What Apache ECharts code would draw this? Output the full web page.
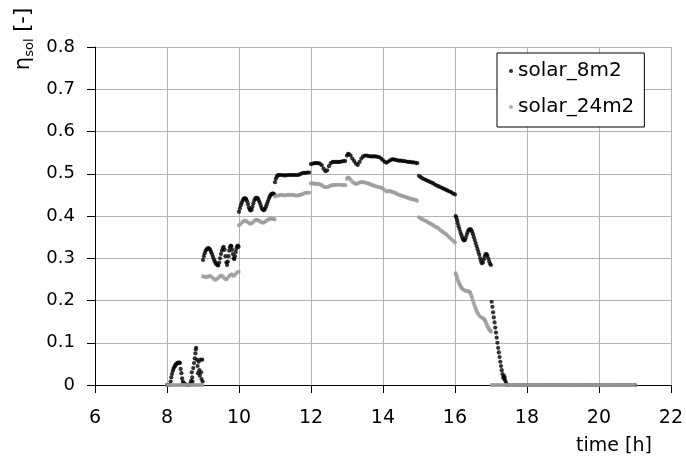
<!DOCTYPE html>
<html>
<head>
<meta charset="utf-8">
<script src="https://cdn.jsdelivr.net/npm/echarts@6/dist/echarts.min.js"></script>
<style>
html,body{margin:0;padding:0;background:#fff;}
#chart{width:686px;height:456px;}
</style>
</head>
<body>
<div id="chart"></div>
<script>
// ---- data: [time h, eta_sol] ----
const seriesNames = ['solar_8m2', 'solar_24m2'];
const xRange = [6, 22, 2];      // min, max, interval (h)
const yRange = [0, 0.8, 0.1];   // min, max, interval
const xAxisTitle = 'time [h]';

const solar8m2 = [
  [8.00,0],[8.05,0],[8.10,0.008],[8.12,0.018],[8.14,0.026],[8.16,0.033],[8.18,0.038],[8.20,0.042],
  [8.22,0.045],[8.24,0.048],[8.26,0.050],[8.28,0.051],[8.30,0.052],[8.32,0.053],[8.34,0.053],[8.36,0.052],
  [8.38,0.038],[8.40,0.028],[8.42,0.016],[8.44,0.008],[8.47,0.004],[8.50,0.002],[8.55,0],[8.60,0],
  [8.65,0.004],[8.67,0.010],[8.69,0.030],[8.70,0.018],[8.71,0.008],[8.73,0.040],[8.75,0.052],[8.77,0.063],
  [8.79,0.075],[8.80,0.084],[8.81,0.088],[8.83,0.060],[8.85,0.045],[8.86,0.028],[8.88,0.055],[8.90,0.035],
  [8.91,0.022],[8.93,0.060],[8.95,0.030],[8.96,0.014],[8.98,0.060],[8.99,0.008],
  [9.00,0.296],[9.025,0.305],[9.05,0.312],[9.075,0.318],[9.10,0.321],[9.125,0.323],[9.15,0.324],[9.175,0.323],
  [9.20,0.320],[9.225,0.315],[9.25,0.310],[9.275,0.304],[9.30,0.298],[9.325,0.293],[9.35,0.289],[9.375,0.286],
  [9.40,0.284],[9.425,0.283],[9.45,0.290],[9.475,0.300],[9.50,0.310],[9.525,0.318],[9.55,0.324],[9.575,0.327],
  [9.60,0.320],[9.625,0.305],[9.65,0.290],[9.67,0.284],[9.69,0.292],[9.71,0.305],[9.73,0.318],[9.75,0.326],
  [9.77,0.330],[9.79,0.328],[9.81,0.320],[9.83,0.310],[9.85,0.300],[9.87,0.298],[9.89,0.305],[9.91,0.315],
  [9.93,0.323],[9.95,0.328],[9.97,0.330],[9.99,0.327],
  [10.00,0.410],[10.025,0.418],[10.05,0.425],[10.075,0.431],[10.10,0.436],[10.125,0.440],[10.15,0.442],[10.175,0.442],
  [10.20,0.440],[10.225,0.435],[10.25,0.428],[10.275,0.420],[10.30,0.415],[10.325,0.413],[10.35,0.415],[10.375,0.422],
  [10.40,0.430],[10.425,0.437],[10.45,0.441],[10.475,0.443],[10.50,0.443],[10.525,0.441],[10.55,0.437],[10.575,0.432],
  [10.60,0.426],[10.625,0.420],[10.65,0.416],[10.675,0.414],[10.70,0.414],[10.725,0.417],[10.75,0.422],[10.775,0.428],
  [10.80,0.434],[10.825,0.440],[10.85,0.445],[10.875,0.449],[10.90,0.452],[10.925,0.453],[10.95,0.453],[10.975,0.452],
  [11.00,0.480],[11.025,0.488],[11.05,0.493],[11.075,0.496],[11.10,0.497],[11.15,0.497],[11.20,0.497],[11.25,0.496],
  [11.30,0.496],[11.35,0.497],[11.40,0.497],[11.45,0.497],[11.50,0.497],[11.55,0.497],[11.60,0.497],[11.65,0.497],
  [11.70,0.499],[11.75,0.501],[11.80,0.502],[11.85,0.502],[11.90,0.503],[11.95,0.503],
  [12.00,0.523],[12.05,0.524],[12.10,0.525],[12.15,0.525],[12.20,0.525],[12.25,0.524],[12.30,0.520],[12.35,0.512],
  [12.40,0.506],[12.45,0.508],[12.50,0.518],[12.55,0.525],[12.60,0.528],[12.65,0.528],[12.70,0.528],[12.75,0.528],
  [12.80,0.528],[12.85,0.529],[12.90,0.530],[12.95,0.530],
  [13.00,0.543],[13.03,0.547],[13.06,0.546],[13.10,0.543],[13.15,0.536],[13.20,0.530],[13.25,0.524],[13.30,0.521],
  [13.35,0.528],[13.40,0.536],[13.45,0.541],[13.50,0.543],[13.55,0.543],[13.60,0.542],[13.65,0.541],[13.70,0.541],
  [13.75,0.541],[13.80,0.541],[13.85,0.540],[13.90,0.539],[13.95,0.536],[14.00,0.532],[14.05,0.528],[14.10,0.526],
  [14.15,0.529],[14.20,0.532],[14.25,0.534],[14.30,0.534],[14.35,0.533],[14.40,0.532],[14.45,0.531],[14.50,0.531],
  [14.55,0.530],[14.60,0.530],[14.65,0.529],[14.70,0.528],[14.75,0.528],[14.80,0.527],[14.85,0.527],[14.90,0.526],
  [14.95,0.525],
  [15.00,0.495],[15.05,0.492],[15.10,0.489],[15.15,0.487],[15.20,0.485],[15.25,0.483],[15.30,0.481],[15.35,0.479],
  [15.40,0.477],[15.45,0.474],[15.50,0.472],[15.55,0.470],[15.60,0.468],[15.65,0.466],[15.70,0.464],[15.75,0.462],
  [15.80,0.460],[15.85,0.458],[15.90,0.456],[15.95,0.453],[16.00,0.451],
  [16.02,0.400],[16.04,0.396],[16.06,0.390],[16.075,0.383],[16.10,0.376],[16.125,0.369],[16.15,0.362],[16.175,0.356],
  [16.20,0.350],[16.225,0.345],[16.25,0.342],[16.275,0.343],[16.30,0.348],[16.325,0.355],[16.35,0.361],[16.375,0.366],
  [16.40,0.368],[16.425,0.369],[16.45,0.367],[16.475,0.363],[16.50,0.357],[16.525,0.350],[16.55,0.343],[16.575,0.336],
  [16.60,0.329],[16.625,0.322],[16.65,0.315],[16.675,0.308],[16.70,0.300],[16.725,0.293],[16.75,0.288],[16.775,0.290],
  [16.80,0.297],[16.825,0.304],[16.85,0.309],[16.875,0.310],[16.90,0.307],[16.925,0.300],[16.95,0.293],[16.975,0.287],
  [17.00,0.284],
  [17.02,0.197],[17.04,0.185],[17.06,0.172],[17.08,0.160],[17.10,0.148],[17.12,0.136],[17.14,0.124],[17.16,0.112],
  [17.18,0.100],[17.20,0.088],[17.22,0.077],[17.24,0.066],[17.26,0.055],[17.28,0.045],[17.30,0.035],[17.32,0.026],
  [17.34,0.018],[17.36,0.022],[17.37,0.014],[17.38,0.018],[17.40,0.010],[17.42,0.005],[17.45,0],
  [17.5,0],[17.6,0],[17.7,0],[17.8,0],[17.9,0],[18.0,0],[18.1,0],[18.2,0],[18.3,0],[18.4,0],[18.5,0],[18.6,0],
  [18.7,0],[18.8,0],[18.9,0],[19.0,0],[19.1,0],[19.2,0],[19.3,0],[19.4,0],[19.5,0],[19.6,0],[19.7,0],[19.8,0],
  [19.9,0],[20.0,0],[20.1,0],[20.2,0],[20.3,0],[20.4,0],[20.5,0],[20.6,0],[20.7,0],[20.8,0],[20.9,0],[21.0,0]
];

const solar24m2 = [
  [8.00,0],[8.05,0],[8.10,0],[8.15,0],[8.20,0],[8.25,0],[8.30,0],[8.35,0],[8.40,0],[8.45,0],[8.50,0],
  [8.55,0],[8.60,0],[8.65,0],[8.70,0],[8.75,0],[8.80,0],[8.85,0],[8.90,0],[8.95,0],[8.98,0],
  [9.00,0.257],[9.05,0.256],[9.10,0.255],[9.15,0.257],[9.20,0.258],[9.25,0.255],[9.30,0.251],[9.35,0.249],
  [9.40,0.252],[9.45,0.256],[9.50,0.259],[9.55,0.257],[9.60,0.252],[9.65,0.250],[9.70,0.255],[9.75,0.260],
  [9.80,0.262],[9.85,0.258],[9.90,0.262],[9.95,0.266],[9.99,0.268],
  [10.00,0.378],[10.05,0.382],[10.10,0.386],[10.15,0.389],[10.20,0.388],[10.25,0.385],[10.30,0.382],[10.35,0.382],
  [10.40,0.386],[10.45,0.390],[10.50,0.391],[10.55,0.389],[10.60,0.386],[10.65,0.384],[10.70,0.385],[10.75,0.388],
  [10.80,0.391],[10.85,0.393],[10.90,0.394],[10.95,0.393],[10.99,0.392],
  [11.00,0.446],[11.05,0.448],[11.10,0.449],[11.15,0.450],[11.20,0.450],[11.25,0.449],[11.30,0.449],[11.35,0.450],
  [11.40,0.450],[11.45,0.450],[11.50,0.450],[11.55,0.449],[11.60,0.448],[11.65,0.449],[11.70,0.450],[11.75,0.451],
  [11.80,0.453],[11.85,0.455],[11.90,0.455],[11.95,0.455],
  [12.00,0.477],[12.05,0.477],[12.10,0.476],[12.15,0.476],[12.20,0.476],[12.25,0.475],[12.30,0.473],[12.35,0.470],
  [12.40,0.468],[12.45,0.468],[12.50,0.470],[12.55,0.472],[12.60,0.473],[12.65,0.473],[12.70,0.474],[12.75,0.474],
  [12.80,0.474],[12.85,0.474],[12.90,0.473],[12.95,0.473],
  [13.00,0.488],[13.03,0.491],[13.06,0.490],[13.10,0.486],[13.15,0.481],[13.20,0.478],[13.25,0.476],[13.30,0.477],
  [13.35,0.479],[13.40,0.480],[13.45,0.480],[13.50,0.479],[13.55,0.478],[13.60,0.477],[13.65,0.475],[13.70,0.473],
  [13.75,0.472],[13.80,0.470],[13.85,0.469],[13.90,0.468],[13.95,0.467],[14.00,0.465],[14.05,0.461],[14.10,0.458],
  [14.15,0.459],[14.20,0.459],[14.25,0.457],[14.30,0.456],[14.35,0.454],[14.40,0.452],[14.45,0.450],[14.50,0.449],
  [14.55,0.447],[14.60,0.446],[14.65,0.444],[14.70,0.443],[14.75,0.441],[14.80,0.440],[14.85,0.439],[14.90,0.438],
  [14.95,0.436],
  [15.00,0.397],[15.05,0.394],[15.10,0.392],[15.15,0.390],[15.20,0.388],[15.25,0.385],[15.30,0.383],[15.35,0.380],
  [15.40,0.378],[15.45,0.375],[15.50,0.373],[15.55,0.370],[15.60,0.366],[15.65,0.363],[15.70,0.360],[15.75,0.357],
  [15.80,0.353],[15.85,0.349],[15.90,0.345],[15.95,0.341],[16.00,0.337],
  [16.02,0.264],[16.04,0.259],[16.06,0.254],[16.075,0.249],[16.10,0.244],[16.125,0.239],[16.15,0.235],[16.175,0.231],
  [16.20,0.228],[16.25,0.225],[16.30,0.223],[16.35,0.222],[16.40,0.221],[16.425,0.218],[16.45,0.213],[16.475,0.207],
  [16.50,0.200],[16.525,0.193],[16.55,0.187],[16.575,0.181],[16.60,0.176],[16.625,0.171],[16.65,0.167],[16.70,0.162],
  [16.75,0.159],[16.80,0.157],[16.825,0.154],[16.85,0.150],[16.875,0.145],[16.90,0.140],[16.925,0.136],[16.95,0.132],
  [16.975,0.129],[17.00,0.126],
  [17.02,0],[17.05,0],[17.10,0],[17.15,0],[17.20,0],[17.25,0],[17.30,0],[17.35,0],[17.40,0],[17.45,0],
  [17.50,0],[17.55,0],[17.60,0],[17.65,0],[17.70,0],[17.75,0],[17.80,0],[17.85,0],[17.90,0],[17.95,0],
  [18.00,0],[18.05,0],[18.10,0],[18.15,0],[18.20,0],[18.25,0],[18.30,0],[18.35,0],[18.40,0],[18.45,0],
  [18.50,0],[18.55,0],[18.60,0],[18.65,0],[18.70,0],[18.75,0],[18.80,0],[18.85,0],[18.90,0],[18.95,0],
  [19.00,0],[19.05,0],[19.10,0],[19.15,0],[19.20,0],[19.25,0],[19.30,0],[19.35,0],[19.40,0],[19.45,0],
  [19.50,0],[19.55,0],[19.60,0],[19.65,0],[19.70,0],[19.75,0],[19.80,0],[19.85,0],[19.90,0],[19.95,0],
  [20.00,0],[20.05,0],[20.10,0],[20.15,0],[20.20,0],[20.25,0],[20.30,0],[20.35,0],[20.40,0],[20.45,0],
  [20.50,0],[20.55,0],[20.60,0],[20.65,0],[20.70,0],[20.75,0],[20.80,0],[20.85,0],[20.90,0],[20.95,0],
  [21.00,0]
];

const FONT = 'DejaVu Sans';
const chart = echarts.init(document.getElementById('chart'), null, {renderer: 'canvas'});
chart.setOption({
  animation: false,
  backgroundColor: '#fff',
  textStyle: {fontFamily: FONT},
  grid: {left: 95, right: 15, top: 47, bottom: 71, containLabel: false},
  xAxis: {
    type: 'value', min: xRange[0], max: xRange[1], interval: xRange[2],
    name: xAxisTitle, nameLocation: 'end', nameGap: -19,
    nameTextStyle: {fontSize: 19, color: '#000', align: 'right', verticalAlign: 'top', padding: [52, 0, 0, 0], fontFamily: FONT},
    axisLine: {show: true, lineStyle: {color: '#000', width: 1}},
    axisTick: {show: true, length: 8, lineStyle: {color: '#000'}},
    axisLabel: {fontSize: 19, color: '#000', margin: 24, fontFamily: FONT},
    splitLine: {show: true, lineStyle: {color: '#b4b4b4', width: 1}}
  },
  yAxis: {
    type: 'value', min: yRange[0], max: yRange[1], interval: yRange[2],
    axisLine: {show: true, lineStyle: {color: '#000', width: 1}},
    axisTick: {show: true, length: 8, lineStyle: {color: '#000'}},
    axisLabel: {fontSize: 18, color: '#000', margin: 20, fontFamily: FONT,
      formatter: v => (Math.abs(v) < 1e-9 ? '0' : v.toFixed(1))},
    splitLine: {show: true, lineStyle: {color: '#b4b4b4', width: 1}}
  },
  legend: {
    orient: 'vertical', left: 497, top: 53,
    padding: [8, 10, 10, 12], itemGap: 16, itemWidth: 4, itemHeight: 4,
    borderColor: '#000', borderWidth: 1, backgroundColor: '#fff',
    textStyle: {fontSize: 20, color: '#000', fontFamily: FONT},
    data: [{name: seriesNames[0], icon: 'circle'}, {name: seriesNames[1], icon: 'circle'}]
  },
  graphic: [{
    type: 'text', x: 24, y: 39, rotation: Math.PI / 2, z: 10,
    style: {
      text: '{a|η}{b|sol}{a| [-]}',
      align: 'center', verticalAlign: 'middle',
      rich: {
        a: {fontSize: 21, fontFamily: FONT, fill: '#000', lineHeight: 24},
        b: {fontSize: 13, fontFamily: FONT, fill: '#000', verticalAlign: 'bottom', lineHeight: 13}
      }
    }
  }],
  series: [
    {name: seriesNames[0], type: 'scatter', data: solar8m2, symbol: 'circle', symbolSize: 4.2,
      itemStyle: {color: '#000'}, z: 2},
    {name: seriesNames[1], type: 'scatter', data: solar24m2, symbol: 'circle', symbolSize: 4.2,
      itemStyle: {color: '#999999'}, z: 3}
  ]
});
</script>
</body>
</html>
